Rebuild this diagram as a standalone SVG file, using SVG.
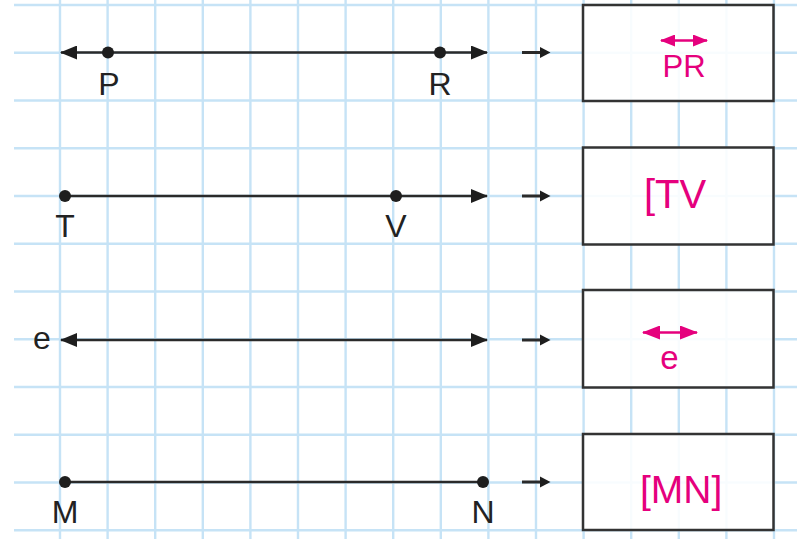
<svg xmlns="http://www.w3.org/2000/svg" width="797" height="539" viewBox="0 0 797 539">
  <style>
    .grid line { stroke: #c6e3f6; stroke-width: 2.4; }
    .seg { stroke: #2a2a2a; stroke-width: 2.6; fill: none; }
    .small { stroke: #2a2a2a; stroke-width: 3; fill: none; }
    .head { fill: #1e1e1e; }
    .dot { fill: #1e1e1e; }
    .lbl { font-family: "Liberation Sans", Arial, sans-serif; font-size: 32px; fill: #222; text-anchor: middle; }
    .box { fill: #ffffff; fill-opacity: 0.88; stroke: #333; stroke-width: 2.5; }
    .pink { font-family: "Liberation Sans", Arial, sans-serif; fill: #e5007d; }
    .parrow { stroke: #e5007d; stroke-width: 2.5; fill: none; }
  </style>
  <defs>
    <marker id="ah" viewBox="0 0 17 14" refX="16" refY="7" markerWidth="17" markerHeight="14" markerUnits="userSpaceOnUse" orient="auto-start-reverse">
      <path d="M0,0 L17,7 L0,14 Z" fill="#1e1e1e"/>
    </marker>
    <marker id="ph1" viewBox="0 0 15 12" refX="14" refY="6" markerWidth="15" markerHeight="12" markerUnits="userSpaceOnUse" orient="auto-start-reverse">
      <path d="M0,0 L15,6 L0,12 Z" fill="#e5007d"/>
    </marker>
    <marker id="ph3" viewBox="0 0 18 14" refX="17" refY="7" markerWidth="18" markerHeight="14" markerUnits="userSpaceOnUse" orient="auto-start-reverse">
      <path d="M0,0 L18,7 L0,14 Z" fill="#e5007d"/>
    </marker>
    <g id="smallarrow">
      <line class="small" x1="0" y1="0" x2="20" y2="0"/>
      <path class="head" d="M18,-5.5 L28.5,0 L18,5.5 Z"/>
    </g>
  </defs>
  <rect width="797" height="539" fill="#ffffff"/>
  <g class="grid" id="grid">
    <line x1="14" y1="5" x2="797" y2="5"/>
    <line x1="14" y1="52.75" x2="797" y2="52.75"/>
    <line x1="14" y1="100.5" x2="797" y2="100.5"/>
    <line x1="14" y1="148.25" x2="797" y2="148.25"/>
    <line x1="14" y1="196" x2="797" y2="196"/>
    <line x1="14" y1="243.75" x2="797" y2="243.75"/>
    <line x1="14" y1="291.5" x2="797" y2="291.5"/>
    <line x1="14" y1="339.25" x2="797" y2="339.25"/>
    <line x1="14" y1="387" x2="797" y2="387"/>
    <line x1="14" y1="434.75" x2="797" y2="434.75"/>
    <line x1="14" y1="482.5" x2="797" y2="482.5"/>
    <line x1="14" y1="530.25" x2="797" y2="530.25"/>
    <line x1="60" y1="0" x2="60" y2="539"/>
    <line x1="107.6" y1="0" x2="107.6" y2="539"/>
    <line x1="155.2" y1="0" x2="155.2" y2="539"/>
    <line x1="202.8" y1="0" x2="202.8" y2="539"/>
    <line x1="250.4" y1="0" x2="250.4" y2="539"/>
    <line x1="298" y1="0" x2="298" y2="539"/>
    <line x1="345.6" y1="0" x2="345.6" y2="539"/>
    <line x1="393.2" y1="0" x2="393.2" y2="539"/>
    <line x1="440.8" y1="0" x2="440.8" y2="539"/>
    <line x1="488.4" y1="0" x2="488.4" y2="539"/>
    <line x1="536" y1="0" x2="536" y2="539"/>
    <line x1="583.6" y1="0" x2="583.6" y2="539"/>
    <line x1="631.2" y1="0" x2="631.2" y2="539"/>
    <line x1="678.8" y1="0" x2="678.8" y2="539"/>
    <line x1="726.4" y1="0" x2="726.4" y2="539"/>
    <line x1="774" y1="0" x2="774" y2="539"/>
  </g>

  <g id="connectors">
    <line class="seg" x1="61" y1="52.5" x2="487" y2="52.5" marker-start="url(#ah)" marker-end="url(#ah)"/>
    <use href="#smallarrow" x="522" y="52.5"/>
    <line class="seg" x1="65" y1="196" x2="487" y2="196" marker-end="url(#ah)"/>
    <use href="#smallarrow" x="522" y="196"/>
    <line class="seg" x1="61" y1="340" x2="487" y2="340" marker-start="url(#ah)" marker-end="url(#ah)"/>
    <use href="#smallarrow" x="522" y="340"/>
    <line class="seg" x1="65" y1="482" x2="483" y2="482"/>
    <use href="#smallarrow" x="522" y="482"/>
  </g>

  <g id="point-P"><circle class="dot" cx="108" cy="52.5" r="6"/><text class="lbl" x="109" y="95">P</text></g>
  <g id="point-R"><circle class="dot" cx="440" cy="52.5" r="6"/><text class="lbl" x="440" y="95">R</text></g>
  <g id="point-T"><circle class="dot" cx="65" cy="196" r="6"/><text class="lbl" x="65" y="237">T</text></g>
  <g id="point-V"><circle class="dot" cx="396" cy="196" r="6"/><text class="lbl" x="396" y="237">V</text></g>
  <g id="line-e"><text class="lbl" x="42" y="349">e</text></g>
  <g id="point-M"><circle class="dot" cx="65" cy="482" r="6"/><text class="lbl" x="65" y="523">M</text></g>
  <g id="point-N"><circle class="dot" cx="483" cy="482" r="6"/><text class="lbl" x="483" y="523">N</text></g>

  <g id="box-PR">
    <rect class="box" x="583" y="5" width="190.5" height="96"/>
    <line class="parrow" x1="661" y1="40.5" x2="707" y2="40.5" marker-start="url(#ph1)" marker-end="url(#ph1)"/>
    <text class="pink" x="684" y="77" font-size="31" text-anchor="middle">PR</text>
  </g>
  <g id="box-TV">
    <rect class="box" x="583" y="147.5" width="190.5" height="97"/>
    <text class="pink" x="644" y="208" font-size="40">[TV</text>
  </g>
  <g id="box-e">
    <rect class="box" x="583" y="290" width="190.5" height="97.5"/>
    <line class="parrow" x1="643" y1="332.5" x2="697" y2="332.5" marker-start="url(#ph3)" marker-end="url(#ph3)"/>
    <text class="pink" x="669.5" y="369" font-size="33" text-anchor="middle">e</text>
  </g>
  <g id="box-MN">
    <rect class="box" x="583" y="434" width="190.5" height="96"/>
    <text class="pink" x="640" y="503" font-size="39">[MN]</text>
  </g>
</svg>
